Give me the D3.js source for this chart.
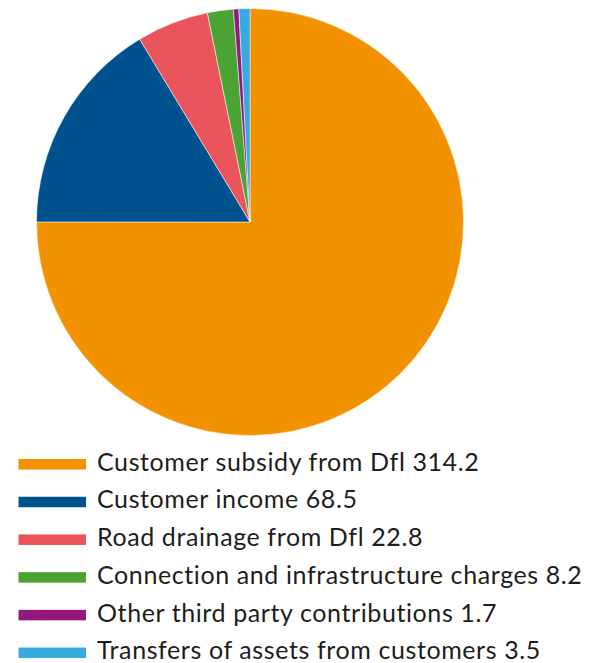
<!DOCTYPE html>
<html>
<head>
<meta charset="utf-8">
<script src="https://cdn.jsdelivr.net/npm/d3@7"></script>
<style>
  html, body { margin: 0; padding: 0; background: #fff; }
  svg { display: block; }
</style>
</head>
<body>
<svg id="chart" width="614" height="663"></svg>
<script>
// Income sources (£m)
const categories = [
  "Customer subsidy from Dfl",
  "Customer income",
  "Road drainage from Dfl",
  "Connection and infrastructure charges",
  "Other third party contributions",
  "Transfers of assets from customers"
];
const values = [314.2, 68.5, 22.8, 8.2, 1.7, 3.5];
const colors = ["#F39200", "#00528F", "#E9555A", "#4BA334", "#94197F", "#38AAE1"];

const data = categories.map((c, i) => ({ name: c, value: values[i], color: colors[i] }));

const svg = d3.select("#chart");
const cx = 250, cy = 222, radius = 213.5;

const pie = d3.pie()
  .value(d => d.value)
  .sort(null);

const arc = d3.arc().innerRadius(0).outerRadius(radius);

svg.append("g")
  .attr("transform", `translate(${cx},${cy})`)
  .selectAll("path")
  .data(pie(data))
  .join("path")
  .attr("d", arc)
  .attr("fill", d => d.data.color)
  .attr("stroke", "#fff")
  .attr("stroke-width", 0.5);

// Legend: one row per category, swatch then label with value
const legendY = d3.scalePoint()
  .domain(categories)
  .range([464.3, 652.8]);

const legend = svg.append("g")
  .selectAll("g")
  .data(data)
  .join("g")
  .attr("transform", d => `translate(0,${legendY(d.name)})`);

legend.append("rect")
  .attr("x", 18.5)
  .attr("y", -5.25)
  .attr("width", 67.5)
  .attr("height", 10.5)
  .attr("fill", d => d.color);

legend.append("text")
  .attr("x", 97)
  .attr("y", 6.4)
  .attr("font-family", "Lato, 'Open Sans', sans-serif")
  .attr("font-size", 25)
  .attr("letter-spacing", 0.6)
  .attr("fill", "#1d1d1b")
  .text(d => `${d.name} ${d.value}`);
</script>
</body>
</html>
